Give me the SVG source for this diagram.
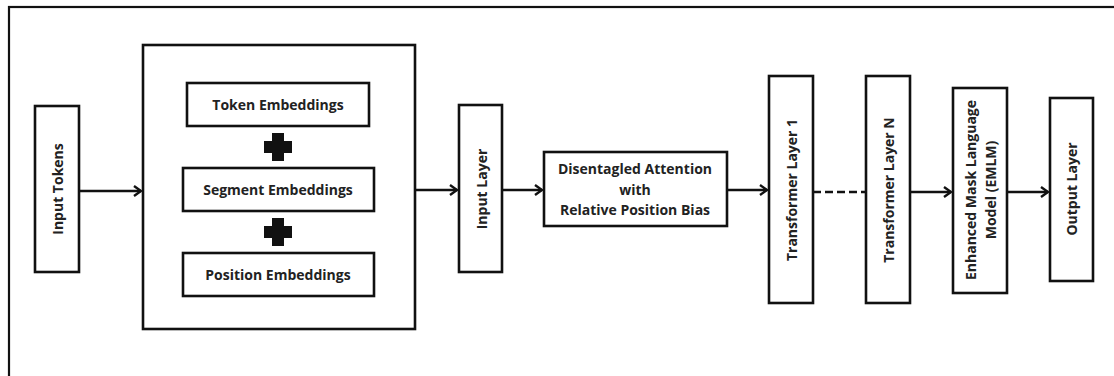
<svg xmlns="http://www.w3.org/2000/svg" width="1114" height="376" viewBox="0 0 1114 376">
<style>
.box{fill:#fff;stroke:#111;stroke-width:2.6}
.frame{fill:none;stroke:#111;stroke-width:2.2}
.t{font-family:"Open Sans","Liberation Sans",sans-serif;font-weight:700;font-size:14px;fill:#222;text-anchor:middle;dominant-baseline:central}
.c{fill:none;stroke:#111;stroke-width:2.6}
.d{stroke-dasharray:8,4}
.plus{fill:#111}
</style>
<defs>
<marker id="ah" viewBox="0 0 10 12" refX="9" refY="6" markerWidth="10" markerHeight="12" markerUnits="userSpaceOnUse" orient="auto">
<path d="M2,1 L9,6 L2,11" fill="none" stroke="#111" stroke-width="2.4"/>
</marker>
</defs>
<rect class="frame" x="9" y="7" width="1200" height="420"/>

<g id="input-tokens">
<rect class="box" x="35" y="106" width="44" height="166"/>
<text class="t" transform="translate(57,189) rotate(-90)">Input Tokens</text>
</g>

<g id="embeddings">
<rect class="box" x="143" y="45" width="272" height="284"/>
<g id="token-emb">
<rect class="box" x="187" y="83" width="182" height="43"/>
<text class="t" x="278" y="104">Token Embeddings</text>
</g>
<path class="plus" d="M272,133 h12 v8 h8 v12 h-8 v8 h-12 v-8 h-8 v-12 h8 z"/>
<g id="segment-emb">
<rect class="box" x="183" y="168" width="191" height="43"/>
<text class="t" x="278" y="189">Segment Embeddings</text>
</g>
<path class="plus" d="M272,218 h12 v8 h8 v12 h-8 v8 h-12 v-8 h-8 v-12 h8 z"/>
<g id="position-emb">
<rect class="box" x="183" y="253" width="191" height="43"/>
<text class="t" x="278" y="274">Position Embeddings</text>
</g>
</g>

<g id="input-layer">
<rect class="box" x="459" y="105" width="43" height="167"/>
<text class="t" transform="translate(481,189) rotate(-90)">Input Layer</text>
</g>

<g id="attention">
<rect class="box" x="544" y="152" width="183" height="74"/>
<text class="t" x="635" y="168">Disentagled Attention</text>
<text class="t" x="635" y="189">with</text>
<text class="t" x="635" y="209">Relative Position Bias</text>
</g>

<g id="transformer-1">
<rect class="box" x="769" y="76" width="44" height="227"/>
<text class="t" transform="translate(791,190) rotate(-90)">Transformer Layer 1</text>
</g>

<g id="transformer-n">
<rect class="box" x="866" y="76" width="44" height="227"/>
<text class="t" transform="translate(888,190) rotate(-90)">Transformer Layer N</text>
</g>

<g id="emlm">
<rect class="box" x="953" y="88" width="54" height="205"/>
<text class="t" transform="translate(970,190) rotate(-90)">Enhanced Mask Language</text>
<text class="t" transform="translate(990,190) rotate(-90)">Model (EMLM)</text>
</g>

<g id="output-layer">
<rect class="box" x="1050" y="98" width="43" height="183"/>
<text class="t" transform="translate(1071,189) rotate(-90)">Output Layer</text>
</g>

<g id="connectors">
<line class="c" x1="79" y1="191" x2="141" y2="191" marker-end="url(#ah)"/>
<line class="c" x1="415" y1="190" x2="457" y2="190" marker-end="url(#ah)"/>
<line class="c" x1="502" y1="190" x2="542" y2="190" marker-end="url(#ah)"/>
<line class="c" x1="727" y1="190" x2="767" y2="190" marker-end="url(#ah)"/>
<line class="c d" x1="813" y1="192" x2="866" y2="192"/>
<line class="c" x1="910" y1="192" x2="951" y2="192" marker-end="url(#ah)"/>
<line class="c" x1="1007" y1="192" x2="1048" y2="192" marker-end="url(#ah)"/>
</g>
</svg>
